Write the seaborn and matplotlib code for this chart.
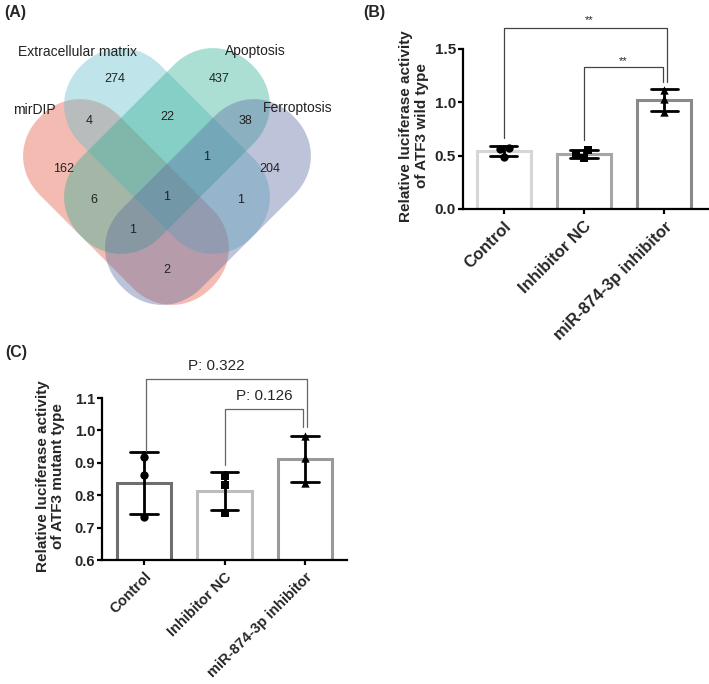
import numpy as np
import pandas as pd
import matplotlib
matplotlib.use("Agg")
import matplotlib.pyplot as plt
import seaborn as sns
from matplotlib.patches import Polygon

# ---------------- data ----------------
venn_sets = ["mirDIP", "Extracellular matrix", "Apoptosis", "Ferroptosis"]
venn_keys = ["M", "E", "A", "F"]
venn_colors = ["#E3553E", "#61BECF", "#2FAF93", "#5C6BA2"]
venn_regions = ["M", "E", "A", "F", "ME", "MA", "MF", "EA", "EF", "AF",
                "MEA", "MEF", "MAF", "EAF", "MEAF"]
venn_counts = [162, 274, 437, 204, 4, 6, 2, 22, 1, 38, 0, 0, 1, 1, 1]

groups = ["Control", "Inhibitor NC", "miR-874-3p inhibitor"]
wt_control = [0.575, 0.49, 0.56]
wt_nc = [0.55, 0.48, 0.52]
wt_mir = [1.12, 1.03, 0.91]
mut_control = [0.918, 0.861, 0.734]
mut_nc = [0.86, 0.83, 0.746]
mut_mir = [0.983, 0.914, 0.839]
wt_ticks = [0.0, 0.5, 1.0, 1.5]
mut_ticks = [0.6, 0.7, 0.8, 0.9, 1.0, 1.1]
wt_sig = [("Control", "miR-874-3p inhibitor", "**"),
          ("Inhibitor NC", "miR-874-3p inhibitor", "**")]
mut_sig = [("Control", "miR-874-3p inhibitor", "P: 0.322"),
           ("Inhibitor NC", "miR-874-3p inhibitor", "P: 0.126")]

# ---------------- style ----------------
sns.set_style("ticks")
plt.rcParams["font.family"] = ["Liberation Sans", "DejaVu Sans"]
W, H = 709, 684
fig = plt.figure(figsize=(W / 100, H / 100), dpi=100)


def fx(px):
    return px / W


def fy(py):
    return 1 - py / H


# ---------------- Venn (panel A) ----------------
axv = fig.add_axes([0, fy(320), fx(340), 320 / H])
axv.set_xlim(0, 340)
axv.set_ylim(320, 0)
axv.axis("off")

s2 = np.sqrt(0.5)
# capsule geometry (layout units): center, axis direction
shapes = {
    "M": ((126, 202), (s2, s2)),
    "E": ((167, 151), (s2, s2)),
    "A": ((167, 151), (-s2, s2)),
    "F": ((208, 202), (-s2, s2)),
}
L_half, R, NEXP = 65, 56, 2.1


def spow(x, p):
    return np.sign(x) * np.abs(x) ** p


def capsule(c, u):
    u = np.array(u)
    v = np.array([-u[1], u[0]])
    ph1 = np.linspace(-np.pi / 2, np.pi / 2, 90)
    ph2 = np.linspace(np.pi / 2, 3 * np.pi / 2, 90)
    p = 2.0 / NEXP
    s = np.concatenate([L_half + R * spow(np.cos(ph1), p),
                        -L_half + R * spow(np.cos(ph2), p)])
    t = np.concatenate([R * spow(np.sin(ph1), p), R * spow(np.sin(ph2), p)])
    return np.c_[c[0] + s * u[0] + t * v[0], c[1] + s * u[1] + t * v[1]]


def inside(c, u, X, Y):
    u = np.array(u)
    v = np.array([-u[1], u[0]])
    dx, dy = X - c[0], Y - c[1]
    s = dx * u[0] + dy * u[1]
    t = dx * v[0] + dy * v[1]
    ex = np.clip(np.abs(s) - L_half, 0, None)
    return (ex / R) ** NEXP + (np.abs(t) / R) ** NEXP <= 1


for k, col in zip(venn_keys, venn_colors):
    c, u = shapes[k]
    axv.add_patch(Polygon(capsule(c, u), closed=True, facecolor=col,
                          edgecolor="none", alpha=0.4))

X, Y = np.meshgrid(np.arange(0, 340, 1.0), np.arange(0, 320, 1.0))
memb = {k: inside(*shapes[k], X, Y) for k in venn_keys}
for reg, cnt in zip(venn_regions, venn_counts):
    if cnt == 0:
        continue
    mask = np.ones_like(X, dtype=bool)
    for k in venn_keys:
        mask &= memb[k] if k in reg else ~memb[k]
    if mask.sum() == 0:
        continue
    axv.text(X[mask].mean(), Y[mask].mean(), str(cnt), ha="center",
             va="center", fontsize=9, color="#222222")

label_pos = [(34, 110), (77, 52), (255, 51), (298, 108)]
for name, (lx, ly) in zip(venn_sets, label_pos):
    axv.text(lx, ly, name, ha="center", va="center", fontsize=10,
             color="#222222")

# ---------------- bar panels ----------------
markers = ["o", "s", "^"]


def bar_panel(ax, vals, edges, ylim, ticks, ylabel, sig, sig_geom, sig_fs,
              sig_color, labx, tick_fs, xt_fs):
    df = pd.DataFrame({"group": np.repeat(groups, [len(v) for v in vals]),
                       "value": np.concatenate(vals)})
    sns.barplot(data=df, x="group", y="value", order=groups, hue="group",
                hue_order=groups, palette=edges, fill=False, linewidth=2.2,
                width=0.68, errorbar="sd", capsize=0.34,
                err_kws={"color": "black", "linewidth": 2.0},
                legend=False, ax=ax)
    for g, v, m in zip(groups, vals, markers):
        sub = pd.DataFrame({"group": [g] * len(v), "value": v})
        sns.swarmplot(data=sub, x="group", y="value", order=groups, marker=m,
                      color="black", size=6, ax=ax, zorder=5)
    ax.set_ylim(*ylim)
    ax.set_yticks(ticks)
    ax.set_yticklabels([f"{t:.1f}" for t in ticks], fontsize=tick_fs,
                       fontweight="bold")
    ax.set_xlabel("")
    ax.set_ylabel(ylabel, fontsize=11, fontweight="bold", linespacing=1.15)
    ax.yaxis.set_label_coords(labx, 0.52)
    for sp in ["top", "right"]:
        ax.spines[sp].set_visible(False)
    for sp in ["left", "bottom"]:
        ax.spines[sp].set_linewidth(1.6)
        ax.spines[sp].set_color("black")
    ax.tick_params(axis="both", length=3.5, width=1.6, color="black")
    ax.tick_params(axis="y", pad=1.5)
    ax.tick_params(axis="x", pad=3.5)
    ax.set_xticks(range(len(groups)))
    ax.set_xticklabels(groups, rotation=45, ha="right", va="top",
                       rotation_mode="anchor", fontsize=xt_fs,
                       fontweight="bold")
    for (g1, g2, txt), (ytop, y1, y2, dx1, dx2, tx, ty) in zip(sig, sig_geom):
        x1 = groups.index(g1) + dx1
        x2 = groups.index(g2) + dx2
        ax.plot([x1, x1, x2, x2], [y1, ytop, ytop, y2], color=sig_color,
                lw=0.9, clip_on=False, zorder=6)
        ax.text(tx, ty, txt, ha="center", va="center", fontsize=sig_fs,
                clip_on=False)


# panel B
axb = fig.add_axes([fx(463), fy(209), fx(709 - 463), (209 - 49) / H])
bar_panel(axb, [wt_control, wt_nc, wt_mir],
          ["#D6D6D6", "#A6A6A6", "#8A8A8A"], (0, 1.5), wt_ticks,
          "Relative luciferase activity\nof ATF3 wild type",
          wt_sig,
          [(1.70, 0.67, 1.19, 0.0, 0.03, 1.06, 1.77),
           (1.33, 0.65, 1.19, 0.0, -0.02, 1.49, 1.39)],
          8, "#444444", -0.14, 11, 12)
axb.set_xlim(-0.51, 2.56)

# panel C
axc = fig.add_axes([fx(102), fy(560), fx(347 - 102), (560 - 398) / H])
bar_panel(axc, [mut_control, mut_nc, mut_mir],
          ["#6E6E6E", "#BDBDBD", "#9A9A9A"], (0.6, 1.1), mut_ticks,
          "Relative luciferase activity\nof ATF3 mutant type",
          mut_sig,
          [(1.16, 0.935, 1.012, 0.02, 0.02, 0.9, 1.2),
           (1.067, 0.894, 1.012, 0.0, -0.025, 1.49, 1.107)],
          11, "#666666", -0.15, 10.5, 10.5)
axc.set_xlim(-0.52, 2.52)

# panel letters
fig.text(fx(4), fy(13), "(A)", fontsize=11.5, fontweight="bold", va="center")
fig.text(fx(363), fy(13), "(B)", fontsize=11.5, fontweight="bold", va="center")
fig.text(fx(5), fy(353), "(C)", fontsize=11.5, fontweight="bold", va="center")

fig.savefig("out.png", dpi=100, facecolor="white")
